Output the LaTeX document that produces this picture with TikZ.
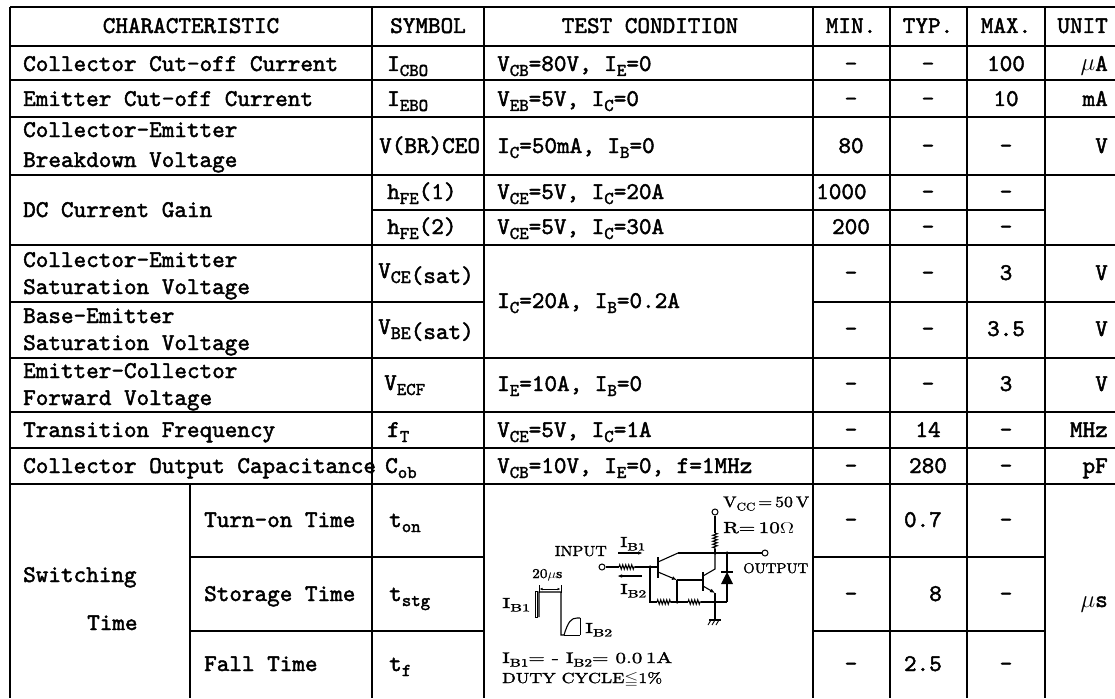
\documentclass[tikz,border=0pt]{standalone}
\usepackage{fontspec}
\usepackage{amssymb}
\usetikzlibrary{arrows.meta,decorations.pathmorphing}
\newfontfamily\tw{lmmono10-regular.otf}[FakeBold=1.8]
\newfontfamily\cfont{lmroman10-regular.otf}[FakeBold=1.5]
\newcommand\sbx[1]{\raisebox{-5pt}{\fontsize{18}{18}\selectfont #1}}
\newcommand\csb[1]{\raisebox{-3.5pt}{\fontsize{11}{11}\selectfont #1}}
\newcommand\bigsz{\fontsize{24}{26}\selectfont}
\newcommand\fitto[3]{\resizebox{#1pt}{#2pt}{#3}}
\begin{document}
\begin{tikzpicture}[x=1pt,y=-1pt,
  grid/.style={line width=1.7pt, black},
  bord/.style={line width=2.4pt, black},
  ltx/.style={font=\tw\bigsz, inner sep=0pt, anchor=base west},
  ctx/.style={font=\tw\bigsz, inner sep=0pt, anchor=base},
  rtx/.style={font=\tw\bigsz, inner sep=0pt, anchor=base east},
  ckt/.style={font=\cfont\fontsize{15}{16}\selectfont, inner sep=0pt, anchor=base west},
  ck/.style={line width=1.1pt},
  term/.style={circle, draw, line width=1pt, fill=white, inner sep=0pt, minimum size=6pt},
  jdot/.style={circle, fill=black, inner sep=0pt, minimum size=3.5pt},
  res/.style={ck, decorate, decoration={zigzag, segment length=3pt, amplitude=2.2pt}}]
\fill[white] (0,0) rectangle (1115,698);
\useasboundingbox (0,0) rectangle (1115,698);

% ---------- grid ----------
\foreach \y in {46,80,117,175,245,358,412,448,484}
  \draw[grid] (10,\y) -- (1115,\y);
\draw[bord] (10,7) -- (1115,7);
\draw[grid] (372,210) -- (1045,210);
\draw[grid] (10,302) -- (484,302);
\draw[grid] (813,302) -- (1115,302);
\foreach \y in {557,631} {
  \draw[grid] (190,\y) -- (484,\y);
  \draw[grid] (813,\y) -- (1045,\y);
}
\draw[bord] (10,7) -- (10,698);
\foreach \x in {372,484,813,890,967,1045}
  \draw[grid] (\x,7) -- (\x,698);
\draw[grid] (190,484) -- (190,698);

% ---------- header ----------
\node[ctx] (hchar) at (191,33) {CHARACTERISTIC};
\node[ctx] (hsym) at (428,33) {SYMBOL};
\node[ctx] (htest) at (650,33) {TEST CONDITION};
\node[ctx] (hmin) at (851,33) {MIN.};
\node[ctx] (htyp) at (928,33) {TYP.};
\node[ctx] (hmax) at (1006,33) {MAX.};
\node[rtx] (hunit) at (1108,33) {UNIT};

% ---------- row 1 ----------
\node[ltx] (c1) at (23,71) {Collector Cut-off Current};
\node[ltx] (s1) at (387,71) {I\sbx{CBO}};
\node[ltx] (t1) at (497,71) {V\sbx{CB}=80V, I\sbx{E}=0};
\node[ctx] (mn1) at (851,71) {-};
\node[ctx] (ty1) at (928,71) {-};
\node[ctx] (mx1) at (1006,71) {100};
\node[rtx] (u1) at (1108,71) {$\mu$A};

% ---------- row 2 ----------
\node[ltx] (c2) at (23,106) {Emitter Cut-off Current};
\node[ltx] (s2) at (387,106) {I\sbx{EBO}};
\node[ltx] (t2) at (497,106) {V\sbx{EB}=5V, I\sbx{C}=0};
\node[ctx] (mn2) at (851,106) {-};
\node[ctx] (ty2) at (928,106) {-};
\node[ctx] (mx2) at (1006,106) {10};
\node[rtx] (u2) at (1108,106) {mA};

% ---------- row 3 ----------
\node[ltx] (c3a) at (23,137) {Collector-Emitter};
\node[ltx] (c3b) at (23,167) {Breakdown Voltage};
\node[ltx] (s3) at (379,153) {V(BR)CEO};
\node[ltx] (t3) at (497,153) {I\sbx{C}=50mA, I\sbx{B}=0};
\node[ctx] (mn3) at (851,153) {80};
\node[ctx] (ty3) at (928,153) {-};
\node[ctx] (mx3) at (1006,153) {-};
\node[rtx] (u3) at (1108,153) {V};

% ---------- hFE ----------
\node[ltx] (c4) at (23,217) {DC Current Gain};
\node[ltx] (s4) at (387,199) {h\sbx{FE}(1)};
\node[ltx] (t4) at (497,199) {V\sbx{CE}=5V, I\sbx{C}=20A};
\node[ltx] (mn4) at (816,199) {1000};
\node[ctx] (ty4) at (928,199) {-};
\node[ctx] (mx4) at (1006,199) {-};
\node[ltx] (s5) at (387,234) {h\sbx{FE}(2)};
\node[ltx] (t5) at (497,234) {V\sbx{CE}=5V, I\sbx{C}=30A};
\node[ctx] (mn5) at (851,234) {200};
\node[ctx] (ty5) at (928,234) {-};
\node[ctx] (mx5) at (1006,234) {-};

% ---------- VCE(sat) / VBE(sat) ----------
\node[ltx] (c6a) at (23,267) {Collector-Emitter};
\node[ltx] (c6b) at (23,294) {Saturation Voltage};
\node[ltx] (s6) at (378,278) {V\raisebox{-5pt}{\fontsize{19}{19}\selectfont CE\bigsz(sat)}};
\node[ltx] (t6) at (497,308) {I\sbx{C}=20A, I\sbx{B}=0.2A};
\node[ctx] (mn6) at (851,280) {-};
\node[ctx] (ty6) at (928,280) {-};
\node[ctx] (mx6) at (1006,280) {3};
\node[rtx] (u6) at (1108,280) {V};
\node[ltx] (c7a) at (23,323) {Base-Emitter};
\node[ltx] (c7b) at (23,350) {Saturation Voltage};
\node[ltx] (s7) at (378,334) {V\raisebox{-5pt}{\fontsize{19}{19}\selectfont BE\bigsz(sat)}};
\node[ctx] (mn7) at (851,336) {-};
\node[ctx] (ty7) at (928,336) {-};
\node[ctx] (mx7) at (1006,336) {3.5};
\node[rtx] (u7) at (1108,336) {V};

% ---------- VECF ----------
\node[ltx] (c8a) at (23,378) {Emitter-Collector};
\node[ltx] (c8b) at (23,405) {Forward Voltage};
\node[ltx] (s8) at (384,390) {V\sbx{ECF}};
\node[ltx] (t8) at (497,391) {I\sbx{E}=10A, I\sbx{B}=0};
\node[ctx] (mn8) at (851,391) {-};
\node[ctx] (ty8) at (928,391) {-};
\node[ctx] (mx8) at (1006,391) {3};
\node[rtx] (u8) at (1108,391) {V};

% ---------- fT / Cob ----------
\node[ltx] (c9) at (23,437) {Transition Frequency};
\node[ltx] (s9) at (387,437) {f\sbx{T}};
\node[ltx] (t9) at (497,437) {V\sbx{CE}=5V, I\sbx{C}=1A};
\node[ctx] (mn9) at (851,437) {-};
\node[ctx] (ty9) at (928,437) {14};
\node[ctx] (mx9) at (1006,437) {-};
\node[rtx] (u9) at (1108,437) {MHz};
\node[ltx] (c10) at (23,473) {Collector Output Capacitance};
\node[ltx] (s10) at (385,473) {C\sbx{ob}};
\node[ltx] (t10) at (497,473) {V\sbx{CB}=10V, I\sbx{E}=0, f=1MHz};
\node[ctx] (mn10) at (851,473) {-};
\node[ctx] (ty10) at (928,473) {280};
\node[ctx] (mx10) at (1006,473) {-};
\node[rtx] (u10) at (1108,473) {pF};

% ---------- switching ----------
\node[ltx] (csw) at (23,582) {Switching};
\node[ltx] (csw2) at (87,630) {Time};
\node[ltx] (c11) at (204,527) {Turn-on Time};
\node[ltx] (s11) at (389,527) {t\sbx{on}};
\node[ctx] (mn11) at (851,527) {-};
\node[rtx] (ty11) at (942,527) {0.7};
\node[ctx] (mx11) at (1006,527) {-};
\node[ltx] (c12) at (204,601) {Storage Time};
\node[ltx] (s12) at (389,601) {t\sbx{stg}};
\node[ctx] (mn12) at (851,601) {-};
\node[rtx] (ty12) at (942,601) {8};
\node[ctx] (mx12) at (1006,601) {-};
\node[ltx] (c13) at (204,671) {Fall Time};
\node[ltx] (s13) at (389,671) {t\sbx{f}};
\node[ctx] (mn13) at (851,671) {-};
\node[rtx] (ty13) at (942,671) {2.5};
\node[ctx] (mx13) at (1006,671) {-};
\node[rtx] (u11) at (1108,607) {$\mu$s};

% ---------- test circuit ----------
\node[term] (tvcc) at (715,512) {};
\node[term] (tin) at (602,567) {};
\node[term] (tout) at (765,553) {};
\coordinate (J0) at (650,567);
\coordinate (J1) at (715,553);
\coordinate (J2) at (727,553);
\coordinate (TC1) at (678,553);
\coordinate (E1) at (677,580);
\coordinate (J3) at (677,602);
\coordinate (J4) at (715,602);
\coordinate (BR) at (727,602);
\coordinate (BL) at (650,602);
\coordinate (GND) at (715,620);
% VCC resistor
\draw[ck] (tvcc) -- (715,533);
\draw[res] (715,533) -- (715,549);
\draw[ck] (715,549) -- (J1);
% top rail
\draw[ck] (TC1) -- (J1) -- (J2) -- (tout);
% input
\draw[ck] (tin) -- (619,567);
\draw[res] (619,567) -- (635,567);
\draw[ck] (635,567) -- (J0) -- (658,567);
% T1
\draw[line width=2pt] (658,557) -- (658,578);
\draw[ck] (658,562) -- (TC1);
\draw[ck,-{Latex[length=5pt,width=4pt]}] (658,572) -- (E1);
\draw[ck] (E1) -- (703,580);
\draw[ck] (E1) -- (J3);
% T2
\draw[line width=2pt] (703,572) -- (703,591);
\draw[ck] (703,576) -- (715,569) -- (J1);
\draw[ck,-{Latex[length=5pt,width=4pt]}] (703,586) -- (715,593);
\draw[ck] (715,593) -- (J4) -- (GND);
% bottom rail with resistors
\draw[ck] (J0) -- (BL) -- (657,602);
\draw[res] (657,602) -- (671,602);
\draw[ck] (671,602) -- (J3) -- (688,602);
\draw[res] (688,602) -- (701,602);
\draw[ck] (701,602) -- (J4) -- (BR);
% diode
\draw[ck] (J2) -- (727,572);
\draw[ck] (BR) -- (727,584);
\fill (727,572) -- (721,584) -- (733,584) -- cycle;
\draw[line width=1.4pt] (721,572) -- (733,572);
% ground
\draw[ck] (709,620) -- (721,620);
\foreach \gx in {711,715,719} \draw[line width=0.9pt] (\gx,620) -- (\gx-3,625);
% junction dots
\foreach \p in {J0,J1,J2,J3,J4} \node[jdot] at (\p) {};
% current arrows
\draw[ck,-{Latex[length=5pt,width=3.5pt]}] (618,553) -- (643,553);
\draw[ck,-{Latex[length=5pt,width=3.5pt]}] (642,576) -- (617,576);
% circuit labels
\node[ckt] (lvcc) at (723,507) {\fitto{86}{10.5}{V\csb{CC}\,=\,50\,V}};
\node[ckt] (lr) at (723,533) {\fitto{71}{11}{R=\,10$\Omega$}};
\node[ckt, anchor=base east] (lin) at (607,556) {\fitto{52}{10}{INPUT}};
\node[ckt] (lib1) at (620,547) {\fitto{25}{10}{I\csb{B1}}};
\node[ckt] (lib2) at (620,594) {\fitto{26}{10}{I\csb{B2}}};
\node[ckt] (lout) at (743,573) {\fitto{65}{10}{OUTPUT}};
% pulse waveform
\node[ckt] (l20) at (532,578) {\fitto{30}{9}{20$\mu$s}};
\draw[line width=0.8pt, {Latex[length=3pt,width=2.5pt]}-{Latex[length=3pt,width=2.5pt]}] (539.5,589) -- (560.5,589);
\draw[line width=0.8pt] (539,585) -- (539,593);
\draw[line width=0.8pt] (561,585) -- (561,593);
\draw[line width=0.8pt] (535,591) rectangle (537.5,617);
\draw[ck] (539,617) -- (539,592) -- (561,592) -- (561,635) -- (564,635)
  .. controls (568,622) and (571,618) .. (577,618) -- (580,618);
\draw[line width=0.7pt] (564,635) -- (580,635);
\draw[line width=0.7pt] (580,618) -- (580,635);
\node[ckt] (lpb1) at (502,608) {\fitto{28}{10}{I\csb{B1}}};
\node[ckt] (lpb2) at (585,633) {\fitto{27}{10}{I\csb{B2}}};
\node[ckt] (leq) at (502,663) {\fitto{170}{11}{I\csb{B1}= - I\csb{B2}= 0.0\,1A}};
\node[ckt] (lduty) at (502,683) {\fitto{160}{11}{DUTY CYCLE$\leqq$1\%}};
\end{tikzpicture}
\end{document}
